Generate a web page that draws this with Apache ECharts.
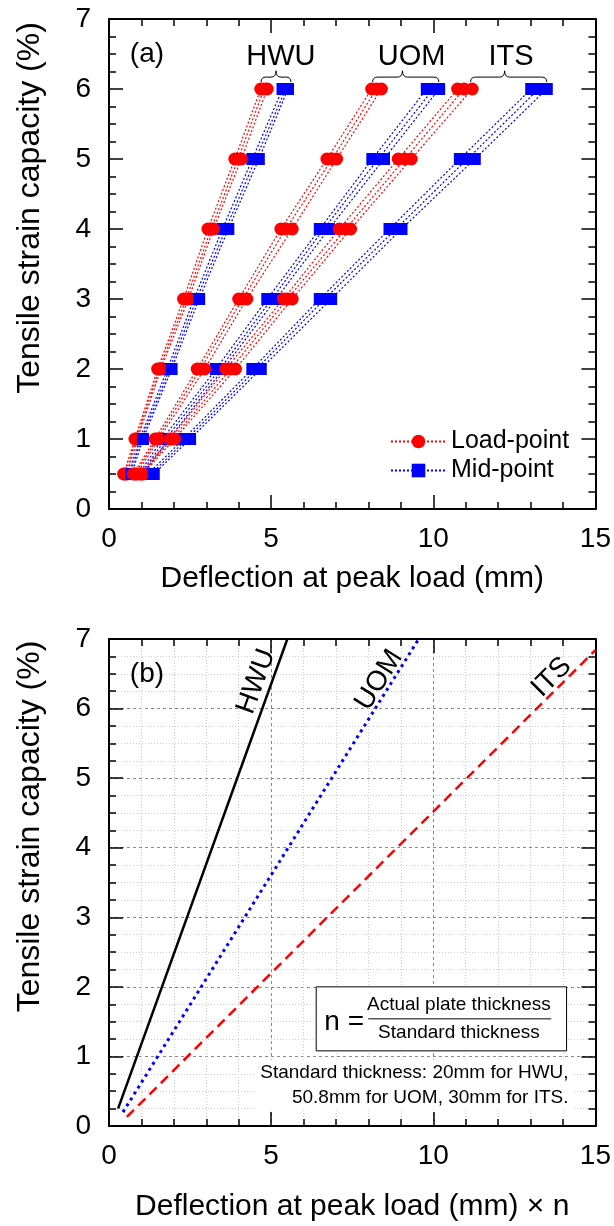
<!DOCTYPE html>
<html>
<head>
<meta charset="utf-8">
<script src="https://cdn.jsdelivr.net/npm/echarts@6/dist/echarts.min.js"></script>
<style>html,body{margin:0;padding:0;background:#fff;}#c{width:614px;height:1226px;}</style>
</head>
<body>
<div id="c"></div>
<script>
// ---------- data: panel (a) ----------
const strainLevels = [0.5, 1, 2, 3, 4, 5, 6];
// rows = strain levels, columns = three specimens
const hwuLoad = [[0.45,0.5,0.55],[0.8,0.84,0.88],[1.5,1.55,1.6],[2.3,2.38,2.45],[3.05,3.15,3.22],[3.88,3.98,4.08],[4.68,4.78,4.88]];
const hwuMid  = [[0.6,0.65,0.7],[0.95,1.0,1.05],[1.8,1.87,1.93],[2.62,2.7,2.78],[3.5,3.6,3.68],[4.42,4.52,4.62],[5.35,5.45,5.52]];
const uomLoad = [[0.75,0.8,0.85],[1.42,1.48,1.54],[2.72,2.82,2.95],[4.0,4.12,4.25],[5.3,5.45,5.65],[6.72,6.88,7.02],[8.1,8.25,8.4]];
const uomMid  = [[0.92,0.98,1.05],[1.65,1.75,1.85],[3.3,3.42,3.52],[4.88,5.02,5.15],[6.5,6.62,6.78],[8.12,8.3,8.48],[9.8,10.0,10.18]];
const itsLoad = [[0.95,1.0,1.05],[1.88,1.95,2.02],[3.6,3.75,3.9],[5.38,5.5,5.65],[7.1,7.3,7.45],[8.92,9.12,9.32],[10.75,10.95,11.2]];
const itsMid  = [[1.2,1.3,1.38],[2.3,2.4,2.5],[4.42,4.55,4.68],[6.5,6.65,6.85],[8.65,8.85,9.02],[10.82,11.05,11.28],[13.02,13.25,13.5]];
const legendNames = ['Load-point', 'Mid-point'];
const groupNames = ['HWU', 'UOM', 'ITS'];
const braceStart = [4.69, 8.13, 11.15];
const braceEnd = [5.61, 10.17, 13.5];
const braceTip = [5.15, 9.05, 12.2];
const braceLevels = [6.1, 6.17, 6.26];   // base, middle, tip
const groupLabelX = [5.3, 9.33, 12.4];
const groupLabelY = 6.46;
// ---------- data: panel (b) ----------
const fitHWU = [[0.28, 0.25], [5.5, 7]];
const fitUOM = [[0.43, 0.2], [9.55, 7]];
const fitITS = [[0.55, 0.13], [15, 6.84]];
const fitLabelX = [4.54, 8.33, 13.65];
const fitLabelY = [6.39, 6.41, 6.45];
const noteBox = [6.39, 14.11, 1.08, 2.0];
const xTicks = [0, 5, 10, 15];
const yTicks = [0, 1, 2, 3, 4, 5, 6, 7];

const FONT = '"Liberation Sans", Arial, Helvetica, sans-serif';
const RED = '#ff0000', BLUE = '#0000ff', BLACK = '#000000';

function xAxes(gridIndex, name, nameGap, grid) {
  const base = {
    gridIndex, type: 'value', min: xTicks[0], max: xTicks[xTicks.length - 1], interval: xTicks[1] - xTicks[0],
    axisLine: { onZero: false, lineStyle: { color: BLACK, width: 2 } },
    axisTick: { inside: true, length: 14, lineStyle: { color: BLACK, width: 1.5 } },
    minorTick: { show: true, splitNumber: 5, length: 7, lineStyle: { color: BLACK, width: 1.5 } },
  };
  return [
    Object.assign({}, base, {
      position: 'bottom',
      axisLabel: { fontSize: 28, color: BLACK, fontFamily: FONT, margin: 16 },
      splitLine: { show: grid, lineStyle: { type: [3, 3], color: '#8a8a8a', width: 1 } },
      minorSplitLine: { show: grid, lineStyle: { type: [1, 2], color: '#cccccc', width: 1 } },
      name, nameLocation: 'middle', nameGap,
      nameTextStyle: { fontSize: 30, color: BLACK, fontFamily: FONT }
    }),
    Object.assign({}, base, { position: 'top', axisLabel: { show: false }, splitLine: { show: false } })
  ];
}
function yAxes(gridIndex, grid) {
  const base = {
    gridIndex, type: 'value', min: yTicks[0], max: yTicks[yTicks.length - 1], interval: yTicks[1] - yTicks[0],
    axisLine: { onZero: false, lineStyle: { color: BLACK, width: 2 } },
    axisTick: { inside: true, length: 14, lineStyle: { color: BLACK, width: 1.5 } },
    minorTick: { show: true, splitNumber: 4, length: 7, lineStyle: { color: BLACK, width: 1.5 } },
  };
  return [
    Object.assign({}, base, {
      position: 'left',
      axisLabel: { fontSize: 28, color: BLACK, fontFamily: FONT, margin: 18 },
      splitLine: { show: grid, lineStyle: { type: [3, 3], color: '#8a8a8a', width: 1 } },
      minorSplitLine: { show: grid, lineStyle: { type: [1, 2], color: '#cccccc', width: 1 } },
      name: 'Tensile strain capacity (%)', nameLocation: 'middle', nameGap: 63, nameRotate: 90,
      nameTextStyle: { fontSize: 32, color: BLACK, fontFamily: FONT, padding: [0, 0, 0, 112] }
    }),
    Object.assign({}, base, { position: 'right', axisLabel: { show: false }, splitLine: { show: false } })
  ];
}

const series = [];
const groups = [[hwuLoad, hwuMid], [uomLoad, uomMid], [itsLoad, itsMid]];
groups.forEach(([load, mid]) => {
  for (let s = 0; s < 3; s++) {
    series.push({
      type: 'line', name: legendNames[0], xAxisIndex: 0, yAxisIndex: 0,
      data: strainLevels.map((y, k) => [load[k][s], y]),
      symbol: 'circle', symbolSize: 13, showSymbol: true,
      itemStyle: { color: RED }, lineStyle: { color: RED, width: 1.2, type: [2, 2] }, z: 3
    });
    series.push({
      type: 'line', name: legendNames[1], xAxisIndex: 0, yAxisIndex: 0,
      data: strainLevels.map((y, k) => [mid[k][s], y]),
      symbol: 'rect', symbolSize: 12, showSymbol: true,
      itemStyle: { color: BLUE }, lineStyle: { color: BLUE, width: 1.2, type: [2, 2] }, z: 3
    });
  }
});

// braces + group labels for panel (a)
series.push({
  type: 'custom', xAxisIndex: 0, yAxisIndex: 0, silent: true, clip: false, z: 5,
  data: groupNames.map((n, i) => [braceStart[i], braceEnd[i], braceTip[i], groupLabelX[i], i]),
  renderItem: function (params, api) {
    const i = api.value(4);
    const pL = api.coord([api.value(0), braceLevels[0]]);
    const pR = api.coord([api.value(1), braceLevels[0]]);
    const ym = api.coord([api.value(0), braceLevels[1]])[1];
    const pT = api.coord([api.value(2), braceLevels[2]]);
    const lab = api.coord([api.value(3), groupLabelY]);
    const r = 5;
    const st = { stroke: BLACK, lineWidth: 1, fill: null };
    return {
      type: 'group', children: [
        { type: 'bezierCurve', shape: { x1: pL[0], y1: pL[1], cpx1: pL[0], cpy1: ym, x2: pL[0] + r, y2: ym }, style: st },
        { type: 'line', shape: { x1: pL[0] + r, y1: ym, x2: pT[0] - r, y2: ym }, style: st },
        { type: 'bezierCurve', shape: { x1: pT[0] - r, y1: ym, cpx1: pT[0], cpy1: ym, x2: pT[0], y2: pT[1] }, style: st },
        { type: 'bezierCurve', shape: { x1: pT[0], y1: pT[1], cpx1: pT[0], cpy1: ym, x2: pT[0] + r, y2: ym }, style: st },
        { type: 'line', shape: { x1: pT[0] + r, y1: ym, x2: pR[0] - r, y2: ym }, style: st },
        { type: 'bezierCurve', shape: { x1: pR[0] - r, y1: ym, cpx1: pR[0], cpy1: ym, x2: pR[0], y2: pR[1] }, style: st },
        { type: 'text', x: lab[0], y: lab[1], style: { text: groupNames[i], fontSize: 29, fontFamily: FONT, fill: BLACK, align: 'center', verticalAlign: 'middle' } }
      ]
    };
  }
});
// panel label (a)
series.push({
  type: 'custom', xAxisIndex: 0, yAxisIndex: 0, silent: true, clip: false, z: 5,
  data: [[1.17, 6.5]],
  renderItem: (p, api) => {
    const c = api.coord([api.value(0), api.value(1)]);
    return { type: 'text', x: c[0], y: c[1], style: { text: '(a)', fontSize: 28, fontFamily: FONT, fill: BLACK, align: 'center', verticalAlign: 'middle' } };
  }
});

// panel (b) fit lines
const fitLines = [fitHWU, fitUOM, fitITS];
const fitStyles = [
  { color: BLACK, width: 2.5, type: 'solid' },
  { color: BLUE, width: 3, type: [3, 4] },
  { color: RED, width: 2.5, type: [10, 6] }
];
fitLines.forEach((d, i) => {
  series.push({
    type: 'line', name: groupNames[i], xAxisIndex: 2, yAxisIndex: 2, data: d,
    symbol: 'none', lineStyle: fitStyles[i], itemStyle: { color: fitStyles[i].color }, z: 3
  });
});
series.push({
  type: 'custom', xAxisIndex: 2, yAxisIndex: 2, silent: true, clip: false, z: 5,
  data: groupNames.map((n, i) => [fitLabelX[i], fitLabelY[i], i]),
  renderItem: function (params, api) {
    const i = api.value(2);
    const a = api.coord(fitLines[i][0]);
    const b = api.coord(fitLines[i][1]);
    const ang = Math.atan2(a[1] - b[1], b[0] - a[0]);
    const c = api.coord([api.value(0), api.value(1)]);
    return { type: 'text', x: c[0], y: c[1], rotation: ang,
      style: { text: groupNames[i], fontSize: 28, fontFamily: FONT, fill: BLACK, align: 'center', verticalAlign: 'middle' } };
  }
});
series.push({
  type: 'custom', xAxisIndex: 2, yAxisIndex: 2, silent: true, clip: false, z: 6,
  data: [[1.17, 6.5]],
  renderItem: (p, api) => {
    const c = api.coord([api.value(0), api.value(1)]);
    const tl = api.coord([noteBox[0], noteBox[3]]);
    const br = api.coord([noteBox[1], noteBox[2]]);
    const w = br[0] - tl[0], h = br[1] - tl[1];
    const ts = (t, x, y, size, align) => ({ type: 'text', x, y, style: { text: t, fontSize: size, fontFamily: FONT, fill: BLACK, align: align || 'center', verticalAlign: 'middle' } });
    return {
      type: 'group', children: [
        { type: 'text', x: c[0], y: c[1], style: { text: '(b)', fontSize: 28, fontFamily: FONT, fill: BLACK, align: 'center', verticalAlign: 'middle' } },
        { type: 'rect', shape: { x: tl[0], y: tl[1], width: w, height: h }, style: { fill: '#fff', stroke: BLACK, lineWidth: 1 } },
        ts('n =', tl[0] + 28, tl[1] + h * 0.55, 28),
        ts('Actual plate thickness', tl[0] + w * 0.57, tl[1] + 18, 19),
        { type: 'line', shape: { x1: tl[0] + 52, y1: tl[1] + 32, x2: tl[0] + 235, y2: tl[1] + 32 }, style: { stroke: BLACK, lineWidth: 1 } },
        ts('Standard thickness', tl[0] + w * 0.57, tl[1] + 46, 19),
        { type: 'rect', shape: { x: tl[0] - 62, y: br[1] + 9, width: w + 68, height: 50 }, style: { fill: '#fff', stroke: null } },
        ts('Standard thickness: 20mm for HWU,', br[0] + 2, br[1] + 22, 19, 'right'),
        ts('50.8mm for UOM, 30mm for ITS.', br[0] + 2, br[1] + 47, 19, 'right')
      ]
    };
  }
});

const option = {
  animation: false,
  backgroundColor: '#ffffff',
  textStyle: { fontFamily: FONT },
  grid: [
    { left: 109, top: 19, width: 488, height: 490, containLabel: false },
    { left: 109, top: 639, width: 488, height: 487, containLabel: false }
  ],
  xAxis: [].concat(xAxes(0, 'Deflection at peak load (mm)', 55, false), xAxes(1, 'Deflection at peak load (mm) \u00d7 n', 66, true)),
  yAxis: [].concat(yAxes(0, false), yAxes(1, true)),
  legend: {
    data: legendNames, orient: 'vertical', left: 385, top: 424, itemWidth: 55, itemHeight: 17, itemGap: 4,
    selectedMode: false, textStyle: { fontSize: 25, color: BLACK, fontFamily: FONT }
  },
  series
};
const chart = echarts.init(document.getElementById('c'), null, { renderer: 'canvas' });
chart.setOption(option);
</script>
</body>
</html>
